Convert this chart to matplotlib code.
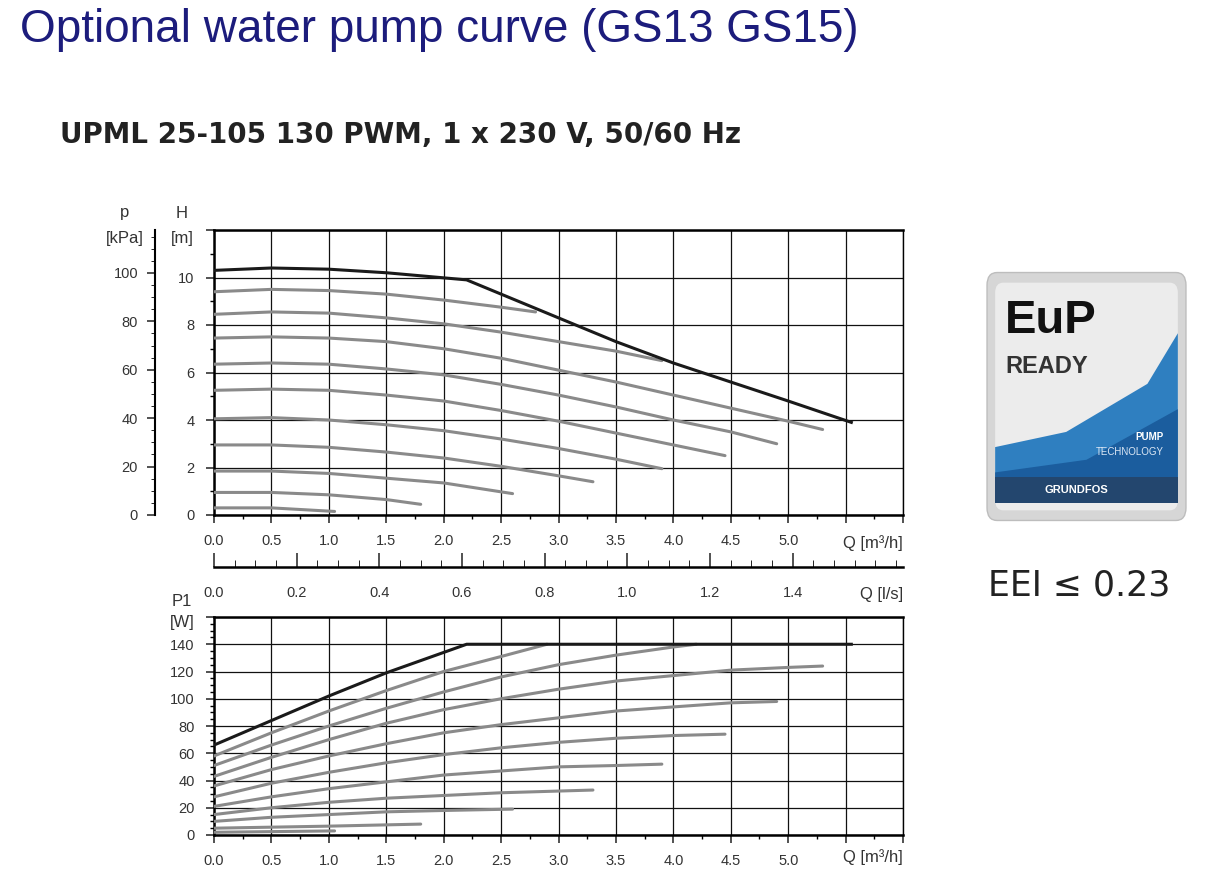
import matplotlib
matplotlib.use("Agg")
import matplotlib.pyplot as plt
import numpy as np
from matplotlib.patches import FancyBboxPatch, Rectangle, Polygon

# ---- data ----
head_max_q = [0, 0.5, 1.0, 1.5, 2.2, 3.0, 3.5, 4.0, 4.5, 5.0, 5.55]
head_max_h = [10.3, 10.4, 10.35, 10.2, 9.9, 8.3, 7.3, 6.4, 5.6, 4.8, 3.9]
head_curves = [
    ([0, 0.5, 1.0, 1.5, 2.0, 2.5, 2.8], [9.4, 9.5, 9.45, 9.3, 9.05, 8.75, 8.55]),
    ([0, 0.5, 1, 1.5, 2, 2.5, 3, 3.5, 3.9], [8.45, 8.55, 8.5, 8.3, 8.05, 7.7, 7.3, 6.9, 6.5]),
    ([0, 0.5, 1, 1.5, 2, 2.5, 3, 3.5, 4, 4.5, 5, 5.3], [7.45, 7.5, 7.45, 7.3, 7.0, 6.6, 6.1, 5.6, 5.05, 4.5, 3.95, 3.6]),
    ([0, 0.5, 1, 1.5, 2, 2.5, 3, 3.5, 4, 4.5, 4.9], [6.35, 6.4, 6.35, 6.15, 5.9, 5.5, 5.05, 4.55, 4.0, 3.5, 3.0]),
    ([0, 0.5, 1, 1.5, 2, 2.5, 3, 3.5, 4, 4.45], [5.25, 5.3, 5.25, 5.05, 4.8, 4.4, 3.95, 3.45, 2.95, 2.5]),
    ([0, 0.5, 1, 1.5, 2, 2.5, 3, 3.5, 3.9], [4.05, 4.1, 4.0, 3.8, 3.55, 3.2, 2.8, 2.35, 1.95]),
    ([0, 0.5, 1, 1.5, 2, 2.5, 3, 3.3], [2.95, 2.95, 2.85, 2.65, 2.4, 2.05, 1.65, 1.4]),
    ([0, 0.5, 1, 1.5, 2, 2.6], [1.85, 1.85, 1.75, 1.55, 1.35, 0.9]),
    ([0, 0.5, 1, 1.5, 1.8], [0.95, 0.95, 0.85, 0.65, 0.45]),
    ([0, 0.5, 1.05], [0.3, 0.3, 0.15]),
]
power_max_q = [0, 1, 1.5, 2.2, 5.55]
power_max_p = [66, 102, 119, 140, 140]
power_curves = [
    ([0, 0.5, 1, 1.5, 2, 2.5, 2.9], [58, 75, 91, 106, 120, 131, 140]),
    ([0, 0.5, 1, 1.5, 2, 2.5, 3, 3.5, 4, 4.2], [51, 66, 80, 93, 105, 116, 125, 132, 138, 140]),
    ([0, 0.5, 1, 1.5, 2, 2.5, 3, 3.5, 4, 4.5, 5, 5.3], [43, 57, 70, 82, 92, 100, 107, 113, 117, 121, 123, 124]),
    ([0, 0.5, 1, 1.5, 2, 2.5, 3, 3.5, 4, 4.5, 4.9], [36, 48, 58, 67, 75, 81, 86, 91, 94, 97, 98]),
    ([0, 0.5, 1, 1.5, 2, 2.5, 3, 3.5, 4, 4.45], [28, 38, 46, 53, 59, 64, 68, 71, 73, 74]),
    ([0, 0.5, 1, 1.5, 2, 2.5, 3, 3.5, 3.9], [21, 28, 34, 39, 44, 47, 50, 51, 52]),
    ([0, 0.5, 1, 1.5, 2, 2.5, 3.3], [15, 20, 24, 27, 29, 31, 33]),
    ([0, 0.5, 1, 1.5, 2, 2.6], [10, 13, 15, 17, 18, 19]),
    ([0, 1, 1.8], [5, 6.5, 8]),
    ([0, 1.05], [2, 3]),
]
q_ticks = [0.0, 0.5, 1.0, 1.5, 2.0, 2.5, 3.0, 3.5, 4.0, 4.5, 5.0]
ls_ticks = [0.0, 0.2, 0.4, 0.6, 0.8, 1.0, 1.2, 1.4]

W, H = 1205, 890
fig = plt.figure(figsize=(W / 100, H / 100), dpi=100)
plt.rcParams['font.family'] = ['Liberation Sans', 'DejaVu Sans']
tc = '#333333'

def fx(px): return px / W
def fy(py): return 1 - py / H

fig.text(fx(20), fy(30), "Optional water pump curve (GS13 GS15)", color='#1c1c7c',
         fontsize=33, va='center', ha='left')
fig.text(fx(60), fy(135), "UPML 25-105 130 PWM, 1 x 230 V, 50/60 Hz", color='#222222',
         fontsize=20, fontweight='bold', va='center', ha='left', family='DejaVu Sans')

def style(ax, ymax, ymajor, yminor):
    ax.set_xlim(0, 6)
    ax.set_xticks(np.arange(0, 6.01, 0.5))
    ax.set_xticks(np.arange(0, 6.01, 0.25), minor=True)
    ax.set_xticklabels([f"{v:.1f}" if v <= 5.0 else "" for v in np.arange(0, 6.01, 0.5)])
    ax.set_ylim(0, ymax)
    ax.set_yticks(ymajor)
    ax.set_yticks(yminor, minor=True)
    ax.grid(True, which='major', color='#111111', lw=0.9)
    for s in ['top', 'bottom', 'left', 'right']:
        ax.spines[s].set_linewidth(1.0 if s == 'right' else 1.8)
    ax.tick_params(labelsize=10.5, colors=tc, length=6, width=1.2, direction='out', pad=8)
    ax.tick_params(which='minor', length=3, width=1)
    ax.text(1.0, -0.1, "Q [m³/h]", transform=ax.transAxes, ha='right', va='center',
            fontsize=12, color=tc)

# top chart
ax1 = fig.add_axes([fx(214), fy(515), fx(903 - 214), fy(230) - fy(515)])
style(ax1, 12, np.arange(0, 12.1, 2), np.arange(0, 12.1, 1))
ax1.set_yticklabels(["0", "2", "4", "6", "8", "10", ""])
for q, h in head_curves:
    ax1.plot(q, h, color='#8a8a8a', lw=2.2, solid_capstyle='round', zorder=3)
ax1.plot(head_max_q, head_max_h, color='#1a1a1a', lw=2.2, zorder=4)
sec = ax1.secondary_yaxis(-0.086, functions=(lambda m: m * 9.81, lambda k: k / 9.81))
sec.set_yticks(np.arange(0, 101, 20))
sec.set_yticks(np.arange(0, 116, 5), minor=True)
sec.tick_params(labelsize=10.5, colors=tc, length=6, width=1.2, pad=6)
sec.tick_params(which='minor', length=3)
sec.spines['left'].set_linewidth(1.5)
fig.text(fx(125), fy(213), "p", fontsize=12, color=tc, ha='center', va='center')
fig.text(fx(125), fy(238), "[kPa]", fontsize=12, color=tc, ha='center', va='center')
fig.text(fx(182), fy(213), "H", fontsize=12, color=tc, ha='center', va='center')
fig.text(fx(182), fy(238), "[m]", fontsize=12, color=tc, ha='center', va='center')

# l/s axis
axq = fig.add_axes([fx(214), fy(567), fx(903 - 214), 0.0001])
axq.set_xlim(0, 6 / 3.6)
for s in ['top', 'left', 'right']:
    axq.spines[s].set_visible(False)
axq.spines['bottom'].set_linewidth(1.8)
axq.set_yticks([])
axq.set_xticks(ls_ticks)
axq.set_xticklabels([f"{v:.1f}" for v in ls_ticks])
axq.set_xticks(np.arange(0, 1.67, 0.05), minor=True)
axq.tick_params(direction='in', length=10, width=1.2, labelsize=10.5, colors=tc, pad=14)
axq.tick_params(which='minor', direction='in', length=5)
fig.text(fx(903), fy(594), "Q [l/s]", fontsize=12, color=tc, ha='right', va='center')

# bottom chart
ax2 = fig.add_axes([fx(214), fy(835), fx(903 - 214), fy(617) - fy(835)])
style(ax2, 160, np.arange(0, 161, 20), np.arange(0, 161, 5))
ax2.set_yticklabels([str(v) for v in range(0, 141, 20)] + [""])
for q, p in power_curves:
    ax2.plot(q, p, color='#8a8a8a', lw=2.2, solid_capstyle='round', zorder=3)
ax2.plot(power_max_q, power_max_p, color='#1a1a1a', lw=2.2, zorder=4)
fig.text(fx(182), fy(602), "P1", fontsize=12, color=tc, ha='center', va='center')
fig.text(fx(182), fy(622), "[W]", fontsize=12, color=tc, ha='center', va='center')

# EuP logo
axl = fig.add_axes([fx(985), fy(523), fx(1188 - 985), fy(270) - fy(523)])
axl.set_xlim(0, 1); axl.set_ylim(0, 1); axl.axis('off')
axl.add_patch(FancyBboxPatch((0.01, 0.01), 0.98, 0.98, boxstyle="round,pad=0,rounding_size=0.05",
                             fc='#d6d6d6', ec='#bdbdbd', lw=1))
axl.add_patch(FancyBboxPatch((0.05, 0.05), 0.9, 0.9, boxstyle="round,pad=0,rounding_size=0.04",
                             fc='#ececec', ec='none'))
axl.add_patch(Polygon([[0.05, 0.08], [0.05, 0.3], [0.4, 0.36], [0.8, 0.55], [0.95, 0.75],
                       [0.95, 0.08]], closed=True, fc='#2f7fc0', ec='none'))
axl.add_patch(Polygon([[0.05, 0.08], [0.05, 0.2], [0.5, 0.25], [0.95, 0.45], [0.95, 0.08]],
                      closed=True, fc='#1b5d9e', ec='none'))
axl.add_patch(Rectangle((0.05, 0.08), 0.9, 0.1, fc='#23466e', ec='none'))
axl.text(0.1, 0.8, "EuP", fontsize=34, fontweight='bold', color='#111111', va='center', ha='left')
axl.text(0.1, 0.62, "READY", fontsize=17, fontweight='bold', color='#333333', va='center', ha='left')
axl.text(0.88, 0.34, "PUMP", fontsize=7, fontweight='bold', color='white', ha='right', va='center')
axl.text(0.88, 0.28, "TECHNOLOGY", fontsize=7, color='#dde8f5', ha='right', va='center')
axl.text(0.45, 0.13, "GRUNDFOS", fontsize=8, fontweight='bold', color='white', ha='center', va='center')
fig.text(fx(988), fy(585), "EEI ≤ 0.23", fontsize=25, color='#222222', ha='left', va='center',
         family='DejaVu Sans')

fig.savefig("out.png", dpi=100)
